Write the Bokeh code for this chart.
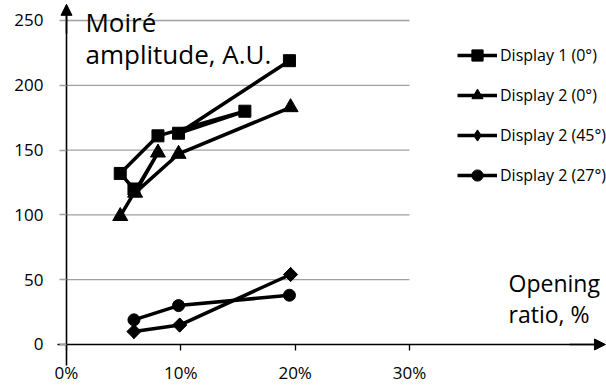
from bokeh.plotting import figure
from bokeh.models import (Range1d, FixedTicker, NumeralTickFormatter, Label, Legend,
                          LegendItem, Arrow, NormalHead)
from bokeh.embed import file_html
from bokeh.resources import INLINE

# ---- data ----
d1_x = [0.059, 0.047, 0.080, 0.156, 0.098, 0.195]
d1_y = [120, 132, 161, 180, 163, 219]

d2_x = [0.047, 0.080, 0.060, 0.098, 0.196]
d2_y = [99, 148, 117, 147, 183]

d45_x = [0.059, 0.099, 0.196]
d45_y = [10, 15, 54]

d27_x = [0.059, 0.098, 0.195]
d27_y = [19, 30, 38]

x_ticks = [0, 0.1, 0.2, 0.3]
y_ticks = [0, 50, 100, 150, 200, 250]
grid_vals = [50, 100, 150, 200, 250]
names = ["Display 1 (0°)", "Display 2 (0°)", "Display 2 (45°)", "Display 2 (27°)"]

FONT = "Open Sans"
X0, X1 = -0.05773, 0.47231
Y0, Y1 = -31.64, 265.43

p = figure(width=606, height=385, x_range=Range1d(X0, X1), y_range=Range1d(Y0, Y1),
           output_backend="svg", toolbar_location=None,
           min_border_left=0, min_border_right=0, min_border_top=0, min_border_bottom=0)
p.outline_line_color = None
p.xgrid.visible = False
p.ygrid.visible = False
p.background_fill_color = "white"
p.border_fill_color = "white"

# grid lines (only up to 30%)
p.segment(x0=0, x1=0.30, y0=grid_vals, y1=grid_vals, line_color="#a0a0a0",
          line_width=1.3, level="underlay")

# axes, pinned at the data origin
xa = p.xaxis[0]
xa.fixed_location = 0
xa.bounds = (-0.0079, 0.466)
xa.ticker = FixedTicker(ticks=x_ticks)
xa.formatter = NumeralTickFormatter(format="0%")
xa.axis_line_color = "black"
xa.axis_line_width = 1.6
xa.major_tick_line_color = "black"
xa.major_tick_line_width = 1.3
xa.major_tick_out = 6
xa.major_tick_in = 0
xa.minor_tick_line_color = None
xa.major_label_text_font = FONT
xa.major_label_text_font_size = "17px"
xa.major_label_text_color = "black"
xa.major_label_standoff = 11

ya = p.yaxis[0]
ya.fixed_location = 0
ya.bounds = (-16.2, 258)
ya.ticker = FixedTicker(ticks=y_ticks)
ya.axis_line_color = "black"
ya.axis_line_width = 1.6
ya.major_tick_line_color = "#a0a0a0"
ya.major_tick_line_width = 1.3
ya.major_tick_out = 7
ya.major_tick_in = 0
ya.minor_tick_line_color = None
ya.major_label_text_font = FONT
ya.major_label_text_font_size = "17px"
ya.major_label_text_color = "black"
ya.major_label_standoff = 16

# arrow heads on axes
p.add_layout(Arrow(end=NormalHead(size=11, fill_color="black", line_color="black"),
                   line_color="black", line_width=1.6,
                   x_start=0, y_start=240, x_end=0, y_end=262.5))
p.add_layout(Arrow(end=NormalHead(size=11, fill_color="black", line_color="black"),
                   line_color="black", line_width=1.6,
                   x_start=0.44, y_start=0, x_end=0.4714, y_end=0))

LW = 3.5
l1 = p.line(d1_x, d1_y, line_color="black", line_width=LW)
m1 = p.scatter(d1_x, d1_y, marker="square", size=12, fill_color="black", line_color="black")
l2 = p.line(d2_x, d2_y, line_color="black", line_width=LW)
m2 = p.scatter(d2_x, d2_y, marker="triangle", size=15, fill_color="black", line_color="black")
l3 = p.line(d45_x, d45_y, line_color="black", line_width=LW)
m3_leg = p.scatter(d45_x, d45_y, marker="diamond", size=14, fill_color="black", line_color="black")
m3 = p.scatter(d45_x, d45_y, marker="square", angle=0.785398, size=10,
               fill_color="black", line_color="black")
l4 = p.line(d27_x, d27_y, line_color="black", line_width=LW)
m4 = p.scatter(d27_x, d27_y, marker="circle", size=12, fill_color="black", line_color="black")

legend = Legend(items=[LegendItem(label=names[0], renderers=[l1, m1]),
                       LegendItem(label=names[1], renderers=[l2, m2]),
                       LegendItem(label=names[2], renderers=[l3, m3_leg]),
                       LegendItem(label=names[3], renderers=[l4, m4])],
                location=(457, 196), orientation="vertical",
                glyph_width=40, glyph_height=28, label_height=28, spacing=12,
                padding=0, margin=0, label_standoff=3,
                border_line_color=None, background_fill_alpha=0,
                label_text_font=FONT, label_text_font_size="16px",
                label_text_color="black")
p.add_layout(legend, "center")

for txt, x, y, fs in [("Moiré", 0.0166, 249.2, "26px"),
                      ("amplitude, A.U.", 0.0166, 224.5, "26px"),
                      ("Opening", 0.3866, 47.5, "23px"),
                      ("ratio, %", 0.3866, 23.5, "23px")]:
    p.add_layout(Label(x=x, y=y, text=txt, text_font=FONT, text_font_size=fs,
                       text_color="black", text_baseline="alphabetic", text_align="left"))

open("out.html", "w").write(file_html(p, INLINE))
